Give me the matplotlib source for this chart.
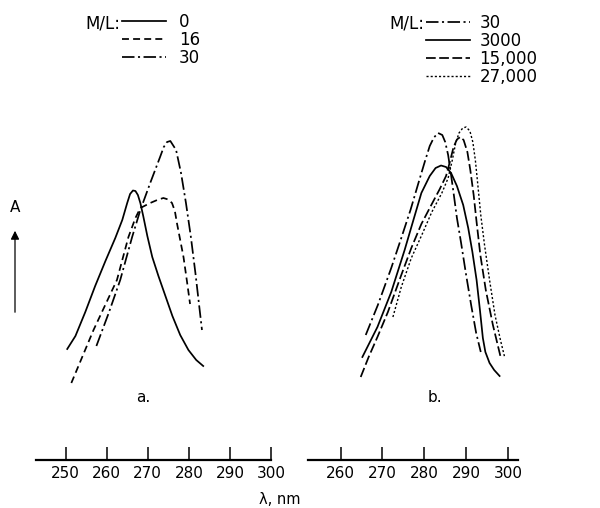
import numpy as np
import matplotlib
matplotlib.use("Agg")
import matplotlib.pyplot as plt

#%% datos (lambda en nm, A en unidades arbitrarias)
a_labels = ["0", "16", "30"]
a_wl_0 = [250.4, 252.4, 254.8, 257.2, 259.7, 262.1, 263.8, 265.0, 265.7, 266.4,
          267.0, 267.6, 268.2, 268.9, 269.9, 271.1, 272.6, 274.3, 276.0, 277.9,
          279.9, 281.8, 283.5]
a_A_0 = [1.11, 1.24, 1.48, 1.74, 1.99, 2.22, 2.40, 2.57, 2.66, 2.695,
         2.69, 2.65, 2.57, 2.44, 2.24, 2.03, 1.84, 1.64, 1.44, 1.25,
         1.10, 1.00, 0.94]
a_wl_16 = [251.4, 256.8, 262.5, 265.3, 267.0, 268.2, 270.6, 272.3, 273.8, 275.0,
           275.9, 276.6, 277.1, 277.9, 278.7, 279.5, 280.3]
a_A_16 = [0.77, 1.30, 1.80, 2.23, 2.42, 2.52, 2.57, 2.60, 2.62, 2.605,
          2.57, 2.49, 2.37, 2.20, 2.03, 1.80, 1.56]
a_wl_30 = [257.5, 260.5, 263.3, 266.2, 268.2, 270.6, 273.0, 273.9, 274.7, 275.5,
           276.9, 278.1, 279.3, 280.5, 281.6, 283.2]
a_A_30 = [1.14, 1.47, 1.80, 2.23, 2.50, 2.77, 3.03, 3.13, 3.18, 3.19,
          3.10, 2.87, 2.57, 2.23, 1.87, 1.30]

b_labels = ["30", "3000", "15,000", "27,000"]
b_wl_30 = [266.0, 268.9, 272.1, 274.5, 276.7, 278.6, 280.1, 281.3, 282.3, 283.3,
           284.3, 285.0, 285.7, 286.3, 287.0, 287.8, 288.8, 290.0, 291.2, 292.4,
           293.5]
b_A_30 = [1.25, 1.55, 1.92, 2.22, 2.50, 2.77, 2.98, 3.14, 3.225, 3.27,
          3.25, 3.18, 3.05, 2.88, 2.67, 2.42, 2.17, 1.85, 1.55, 1.27,
          1.08]
b_wl_3000 = [265.2, 268.8, 272.1, 275.3, 277.4, 279.3, 281.3, 282.7, 284.0, 285.2,
             286.4, 287.8, 289.3, 290.5, 291.5, 292.5, 293.3, 294.0, 294.6, 295.6,
             296.7, 298.0]
b_A_3000 = [1.03, 1.33, 1.68, 2.10, 2.40, 2.67, 2.84, 2.92, 2.945, 2.93,
            2.87, 2.74, 2.55, 2.32, 2.08, 1.80, 1.50, 1.22, 1.08, 0.97,
            0.90, 0.84]
b_wl_15000 = [264.8, 266.7, 268.8, 271.3, 274.5, 276.9, 279.3, 281.8, 283.7, 285.2,
              286.1, 287.0, 287.8, 288.6, 289.4, 290.3, 291.0, 291.8, 292.5, 293.4,
              294.7, 296.4, 298.3]
b_A_15000 = [0.83, 1.03, 1.23, 1.48, 1.85, 2.12, 2.36, 2.56, 2.71, 2.84,
             2.98, 3.13, 3.205, 3.23, 3.20, 3.08, 2.90, 2.65, 2.38, 2.05,
             1.70, 1.35, 1.02]
b_wl_27000 = [272.5, 274.5, 276.9, 279.4, 281.8, 284.2, 285.7, 286.7, 287.5, 288.3,
              289.2, 290.0, 290.9, 291.6, 292.2, 292.8, 293.5, 294.4, 295.6, 296.9,
              298.2, 299.2]
b_A_27000 = [1.43, 1.73, 2.02, 2.25, 2.48, 2.67, 2.82, 3.00, 3.17, 3.27,
             3.32, 3.33, 3.29, 3.18, 3.00, 2.75, 2.45, 2.15, 1.80, 1.45,
             1.20, 1.03]

a_ticks = [250, 260, 270, 280, 290, 300]
b_ticks = [260, 270, 280, 290, 300]

#%% configuracion
plt.rcParams['lines.scale_dashes'] = False
plt.rcParams['font.family'] = ['DejaVu Sans']
W, H = 600, 508

def fx(px):
    return px / W

def fy(py):
    return 1 - py / H

fig = plt.figure(figsize=(6.0, 5.08), dpi=100)

def panel(x0, x1, xlim, ticks):
    ax = fig.add_axes([fx(x0), fy(460), (x1 - x0) / W, 360 / H])
    ax.set_xlim(*xlim)
    ax.set_ylim(0, 3.6)
    for s in ["left", "top", "right"]:
        ax.spines[s].set_visible(False)
    ax.spines["bottom"].set_linewidth(1.6)
    ax.set_yticks([])
    ax.set_xticks(ticks)
    ax.tick_params(axis="x", direction="in", length=9.5, width=1.1,
                   labelsize=11, pad=4)
    ax.patch.set_alpha(0)
    return ax

lw = 1.25
dash = (0, (5, 3))
dashdot = (0, (9, 2.5, 1.5, 2.5))
longdash = (0, (7, 2.5))
dots = (0, (1.5, 1.5))
fs = 12

#   panel a
ax1 = panel(36, 271, (242.8, 300.0), a_ticks)
h1 = ax1.plot(a_wl_0, a_A_0, color="k", lw=lw, ls="-")
h2 = ax1.plot(a_wl_16, a_A_16, color="k", lw=lw, ls=dash)
h3 = ax1.plot(a_wl_30, a_A_30, color="k", lw=lw, ls=dashdot)
ax1.legend(h1 + h2 + h3, a_labels, loc="upper left",
           bbox_to_anchor=(fx(122), fy(13)), bbox_transform=fig.transFigure,
           frameon=False, handlelength=2.65, handletextpad=0.75,
           labelspacing=0.0, borderpad=0, borderaxespad=0, fontsize=fs)
fig.text(fx(120), fy(23), "M/L:", ha="right", va="center", fontsize=fs)

#   panel b
ax2 = panel(308, 518, (252.2, 302.4), b_ticks)
g1 = ax2.plot(b_wl_30, b_A_30, color="k", lw=lw, ls=dashdot)
g2 = ax2.plot(b_wl_3000, b_A_3000, color="k", lw=lw, ls="-")
g3 = ax2.plot(b_wl_15000, b_A_15000, color="k", lw=lw, ls=longdash)
g4 = ax2.plot(b_wl_27000, b_A_27000, color="k", lw=1.0, ls=dots)
ax2.legend(g1 + g2 + g3 + g4, b_labels, loc="upper left",
           bbox_to_anchor=(fx(426), fy(14)), bbox_transform=fig.transFigure,
           frameon=False, handlelength=2.65, handletextpad=0.55,
           labelspacing=0.0, borderpad=0, borderaxespad=0, fontsize=fs)
fig.text(fx(424), fy(23), "M/L:", ha="right", va="center", fontsize=fs)

#   etiquetas
fig.text(fx(143), fy(398), "a.", ha="center", va="center", fontsize=11)
fig.text(fx(435), fy(398), "b.", ha="center", va="center", fontsize=11)
fig.text(fx(280), fy(500), "λ, nm", ha="center", va="center", fontsize=10.5)
fig.text(fx(15), fy(208), "A", ha="center", va="center", fontsize=11)
fig.patches.append(matplotlib.patches.FancyArrowPatch(
    (fx(15), fy(315)), (fx(15), fy(228)), transform=fig.transFigure,
    arrowstyle="-|>,head_length=5,head_width=2.5", color="k", lw=0.9))

fig.savefig("out.png", dpi=100)
